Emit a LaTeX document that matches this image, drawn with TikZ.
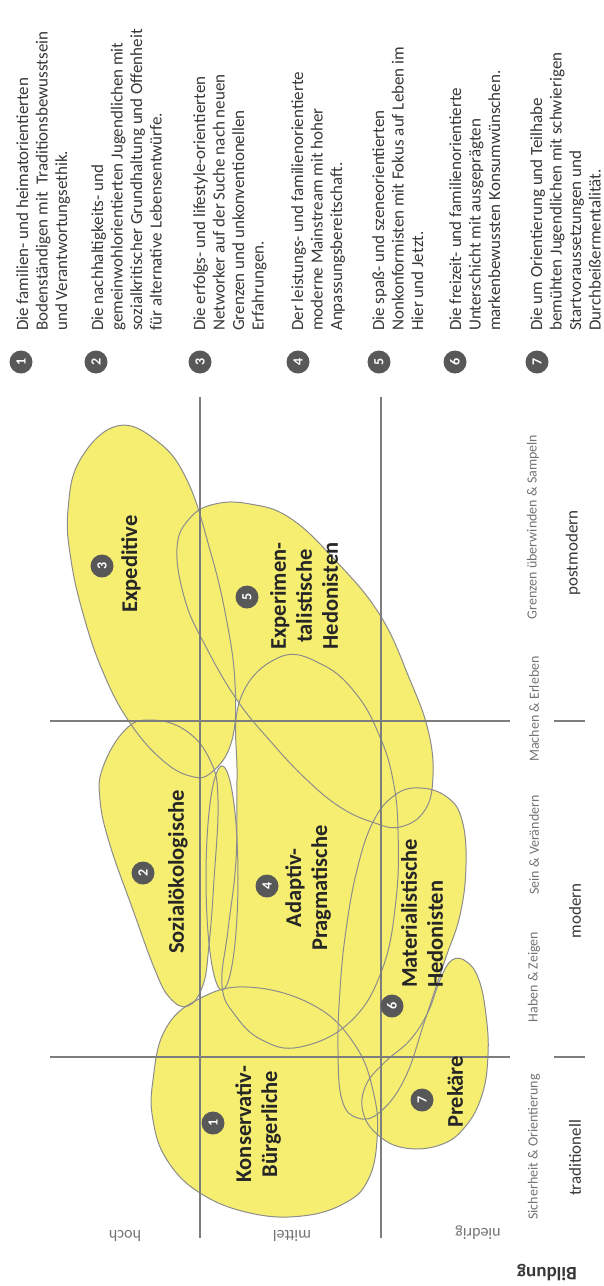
\documentclass[tikz,border=0pt]{standalone}
\usepackage{fontspec}
\setmainfont{Carlito}
\usetikzlibrary{positioning}

\definecolor{milieuyellow}{RGB}{246,238,112}
\definecolor{rimgray}{RGB}{140,140,140}
\definecolor{axisgray}{RGB}{125,125,125}
\definecolor{badgegray}{RGB}{88,88,88}
\definecolor{inkgray}{RGB}{55,55,55}
\definecolor{softgray}{RGB}{115,115,115}

\newcommand\milieuEXP{plot[smooth cycle, tension=0.7] coordinates {(117,426) (157,441) (187,480) (210,550) (226,617) (235,683) (232,740) (212,772) (190,776) (160,758) (128,720) (103,672) (84,617) (71,560) (68,510) (80,460)}}
\newcommand\milieuEH{plot[smooth cycle, tension=0.7] coordinates {(177,548) (190,518) (215,504) (250,504) (290,518) (335,560) (380,615) (410,680) (428,730) (433,775) (425,810) (400,827) (372,822) (340,807) (307,780) (272,743) (237,700) (205,645) (185,600)}}
\newcommand\milieuSOZ{plot[smooth cycle, tension=0.7] coordinates {(103,767) (125,730) (150,720) (185,730) (210,760) (218,800) (214,880) (209,945) (203,985) (188,1006) (170,998) (155,970) (133,910) (110,845) (100,800)}}
\newcommand\milieuADA{plot[smooth cycle, tension=0.7] coordinates {(240,700) (280,657) (323,665) (357,695) (380,737) (393,780) (398,830) (396,900) (382,970) (350,1022) (300,1047) (262,1040) (235,1015) (222,985) (228,930) (236,860) (237,780)}}
\newcommand\milieuKB{plot[smooth cycle, tension=0.7] coordinates {(153,1080) (165,1030) (197,1000) (247,987) (313,1005) (355,1045) (374,1095) (377,1140) (368,1180) (345,1203) (302,1216) (250,1213) (200,1193) (167,1160) (153,1120)}}
\newcommand\milieuMH{plot[smooth cycle, tension=0.7] coordinates {(373,822) (395,795) (420,788) (447,797) (462,820) (466,865) (460,915) (445,960) (425,1020) (405,1078) (380,1112) (358,1118) (342,1100) (338,1050) (340,990) (346,930) (357,870)}}
\newcommand\milieuPRE{plot[smooth cycle, tension=0.7] coordinates {(452,960) (467,962) (479,980) (486,1015) (488,1055) (482,1095) (465,1127) (440,1145) (405,1148) (378,1135) (363,1112) (366,1085) (385,1062) (410,1040) (428,1012) (440,980)}}

\begin{document}
\begin{tikzpicture}[x=1pt, y=-1pt,
  milieu/.style={fill=milieuyellow},
  rim/.style={draw=rimgray, line width=1pt},
  grid/.style={draw=axisgray, line width=1.6pt},
  badge/.style={circle, fill=badgegray, text=white, inner sep=0pt, minimum size=23pt, rotate=90, font=\fontsize{14}{14}\selectfont\bfseries},
  milieuname/.style={rotate=90, inner sep=0pt, align=center, text=black!85, font=\fontsize{22.5}{26}\selectfont\bfseries},
  legendtext/.style={rotate=90, inner sep=0pt, align=left, anchor=north west, text=inkgray, font=\fontsize{17}{19.5}\selectfont},
  valuelabel/.style={rotate=90, inner sep=0pt, text=softgray, font=\fontsize{14}{14}\selectfont},
  epochlabel/.style={rotate=90, inner sep=0pt, text=inkgray, font=\fontsize{17}{17}\selectfont},
  levellabel/.style={rotate=180, inner sep=0pt, text=softgray, font=\fontsize{16}{16}\selectfont}]

\useasboundingbox (0,0) rectangle (604,1286);

% milieu areas
\fill[milieu] \milieuEXP;
\fill[milieu] \milieuEH;
\fill[milieu] \milieuSOZ;
\fill[milieu] \milieuADA;
\fill[milieu] (222,878) ellipse [x radius=16pt, y radius=112pt];
\fill[milieu] \milieuKB;
\fill[milieu] \milieuMH;
\fill[milieu] \milieuPRE;
\draw[rim] \milieuEXP;
\draw[rim] \milieuEH;
\draw[rim] \milieuSOZ;
\draw[rim] \milieuADA;
\draw[rim] (222,878) ellipse [x radius=16pt, y radius=112pt];
\draw[rim] \milieuKB;
\draw[rim] \milieuMH;
\draw[rim] \milieuPRE;

% axes
\draw[grid] (200,397) -- (200,1238);
\draw[grid] (381,397) -- (381,1238);
\draw[grid] (50,721) -- (510,721);
\draw[grid] (50,1057) -- (510,1057);
\draw[grid] (554,721) -- (585,721);
\draw[grid] (554,1057) -- (585,1057);

% legend
\node[badge] (num1) at (21,362) {1};
\node[legendtext] (txt1) at (16,331) {Die familien- und heimatorientierten\\Bodenständigen mit~ Traditionsbewusstsein\\und Verantwortungsethik.};
\node[badge] (num2) at (96,362) {2};
\node[legendtext] (txt2) at (91,331) {Die nachhaltigkeits- und\\gemeinwohlorientierten Jugendlichen mit\\sozialkritischer Grundhaltung und Offenheit\\für alternative Lebensentwürfe.};
\node[badge] (num3) at (200,362) {3};
\node[legendtext] (txt3) at (193,331) {Die erfolgs- und lifestyle-orientierten\\Networker auf der Suche nach neuen\\Grenzen und unkonventionellen\\Erfahrungen.};
\node[badge] (num4) at (298,362) {4};
\node[legendtext] (txt4) at (291,331) {Der leistungs- und familienorientierte\\moderne Mainstream mit hoher\\Anpassungsbereitschaft.};
\node[badge] (num5) at (379,362) {5};
\node[legendtext] (txt5) at (372,331) {Die spaß- und szeneorientierten\\Nonkonformisten mit Fokus auf Leben im\\Hier und Jetzt.};
\node[badge] (num6) at (455,362) {6};
\node[legendtext] (txt6) at (449,331) {Die freizeit- und familienorientierte\\Unterschicht mit ausgeprägten\\markenbewussten Konsumwünschen.};
\node[badge] (num7) at (537,362) {7};
\node[legendtext] (txt7) at (530,331) {Die um Orientierung und Teilhabe\\bemühten Jugendlichen mit schwierigen\\Startvoraussetzungen und\\Durchbeißermentalität.};

% milieu names
\node[badge] (tag3) at (102,566) {3};
\node[milieuname] (exp) at (131,564) {Expeditive};
\node[badge] (tag5) at (247,597) {5};
\node[milieuname] (eh) at (304,596) {Experimen-\\talistische\\Hedonisten};
\node[badge] (tag2) at (143,873) {2};
\node[milieuname] (soz) at (178,872) {Sozialökologische};
\node[badge] (tag4) at (267,886) {4};
\node[milieuname] (ada) at (308,888) {Adaptiv-\\Pragmatische};
\node[badge] (tag1) at (213,1123) {1};
\node[milieuname] (kb) at (258,1124) {Konservativ-\\Bürgerliche};
\node[badge] (tag6) at (392,1006) {6};
\node[milieuname, align=left, anchor=west] (mh) at (422,988) {Materialistische\\Hedonisten};
\node[badge] (tag7) at (422,1100) {7};
\node[milieuname] (pre) at (455,1092) {Prekäre};

% axis labels
\node[valuelabel] (val1) at (533,527) {Grenzen überwinden \& Sampeln};
\node[valuelabel] (val2) at (534,709) {Machen \& Erleben};
\node[valuelabel] (val3) at (534,845) {Sein \& Verändern};
\node[valuelabel] (val4) at (534,977) {Haben \& Zeigen};
\node[valuelabel] (val5) at (534,1147) {Sicherheit \& Orientierung};
\node[epochlabel] (post) at (573,553) {postmodern};
\node[epochlabel] (mod) at (575,911) {modern};
\node[epochlabel] (trad) at (575,1158) {traditionell};
\node[levellabel] (hoch) at (125,1236) {hoch};
\node[levellabel] (mittel) at (292,1236) {mittel};
\node[levellabel] (niedrig) at (478,1233) {niedrig};
\node[levellabel, text=inkgray, font=\fontsize{19}{19}\selectfont\bfseries] (bildung) at (547,1273) {Bildung};
\end{tikzpicture}
\end{document}
